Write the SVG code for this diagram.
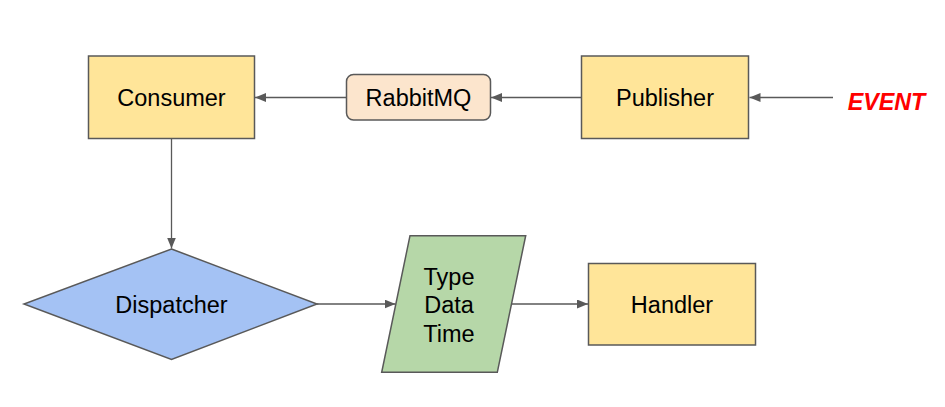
<svg xmlns="http://www.w3.org/2000/svg" width="945" height="407" viewBox="0 0 945 407">
<defs>
<style>
.box{stroke:#595959;stroke-width:1.5}
.y{fill:#ffe599}
.t{font-family:"Liberation Sans",Arial,sans-serif;font-size:23.5px;fill:#000;text-anchor:middle}
.c{fill:none;stroke:#595959;stroke-width:1.3}
</style>
<marker id="ah" markerWidth="12" markerHeight="9" refX="11" refY="4.5" orient="auto" markerUnits="userSpaceOnUse">
<path d="M0,0 L11,4.5 L0,9 Z" fill="#595959"/>
</marker>
</defs>
<rect width="945" height="407" fill="#fff"/>
<g id="connectors">
<line class="c" x1="833" y1="97.5" x2="749.5" y2="97.5" marker-end="url(#ah)"/>
<line class="c" x1="581.5" y1="97.5" x2="491" y2="97.5" marker-end="url(#ah)"/>
<line class="c" x1="346.5" y1="97.5" x2="255" y2="97.5" marker-end="url(#ah)"/>
<line class="c" x1="171.5" y1="138.5" x2="171.5" y2="248.5" marker-end="url(#ah)"/>
<line class="c" x1="317" y1="304" x2="395.5" y2="304" marker-end="url(#ah)"/>
<line class="c" x1="511.5" y1="304" x2="588" y2="304" marker-end="url(#ah)"/>
</g>
<g id="event">
<text x="886.5" y="110" font-family="Liberation Sans,Arial,sans-serif" font-size="23.3" font-weight="bold" font-style="italic" fill="#ff0000" text-anchor="middle">EVENT</text>
</g>
<g id="publisher">
<rect class="box y" x="581.5" y="56" width="167" height="82.5"/>
<text class="t" x="665" y="106">Publisher</text>
</g>
<g id="rabbitmq">
<rect class="box" fill="#fce5cd" x="346.5" y="74.5" width="144" height="45.5" rx="7"/>
<text class="t" x="418.5" y="106">RabbitMQ</text>
</g>
<g id="consumer">
<rect class="box y" x="88.5" y="56" width="166" height="82.5"/>
<text class="t" x="171.5" y="106">Consumer</text>
</g>
<g id="dispatcher">
<polygon class="box" fill="#a4c2f4" points="171.5,249 317,304 171.5,359.5 24,304"/>
<text class="t" x="171.5" y="312.5">Dispatcher</text>
</g>
<g id="data">
<polygon class="box" fill="#b6d7a8" points="410,235.7 525.7,235.7 497.3,372.3 381.7,372.3"/>
<text class="t" x="449" y="285">Type</text>
<text class="t" x="449" y="313">Data</text>
<text class="t" x="449" y="341.5">Time</text>
</g>
<g id="handler">
<rect class="box y" x="588.5" y="263.5" width="167" height="81.5"/>
<text class="t" x="672" y="312.5">Handler</text>
</g>
</svg>
